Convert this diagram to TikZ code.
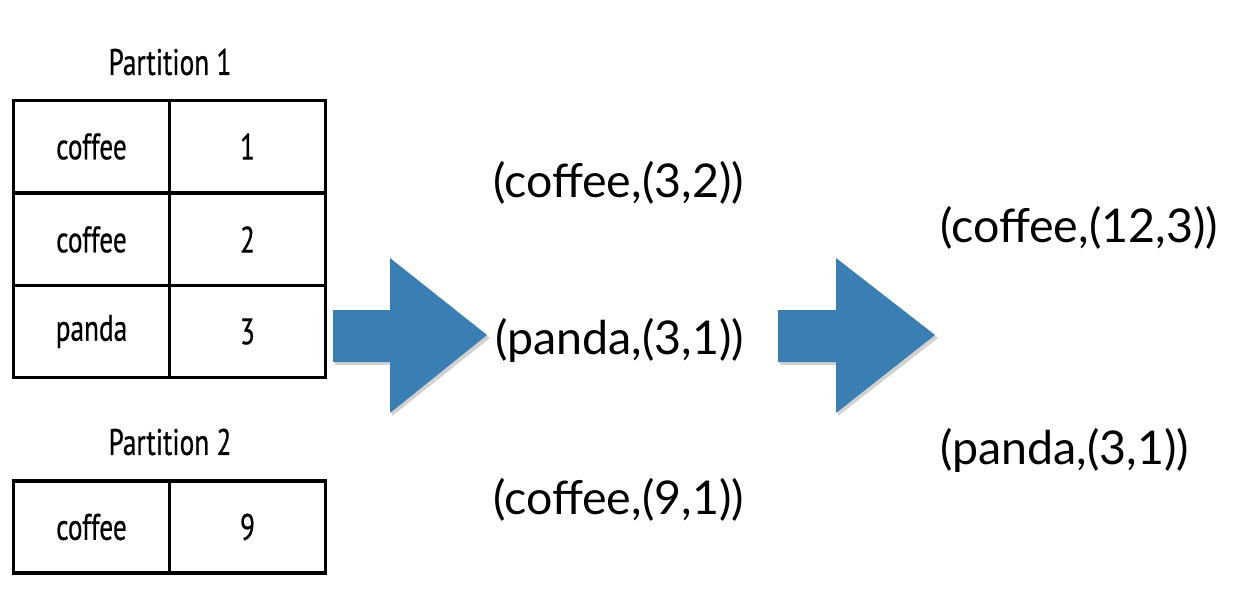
\documentclass[tikz,border=0pt]{standalone}
\usepackage{fontspec}
\setmainfont{Lato}
\newfontfamily\condfont[FakeStretch=0.74,FakeBold=0.6]{PT Sans}
\usepackage{xcolor}
\usepackage{tikz}
\usetikzlibrary{positioning}

\definecolor{arrowblue}{RGB}{57,127,180}

\begin{document}
\begin{tikzpicture}[x=0.02cm, y=-0.02cm,
  cell/.style={rectangle, draw, line width=2.2pt, minimum width=3.12cm, minimum height=1.84cm, inner sep=0pt, font=\condfont\fontsize{21}{24}\selectfont},
  title/.style={font=\condfont\fontsize{21}{24}\selectfont},
  pair/.style={anchor=west, inner sep=0pt, font=\fontsize{26.5}{30}\selectfont},
  bigarrow/.style={fill=arrowblue},
  arrowshadow/.style={fill=black, opacity=0.18}
]
\useasboundingbox (0,0) rectangle (1238,592);

% Partition 1
\node[title] (p1title) at (170,62) {Partition 1};
\node[cell] (k1) at (91.5,146.5) {coffee};
\node[cell] (v1) at (247.5,146.5) {1};
\node[cell] (k2) at (91.5,239.5) {coffee};
\node[cell] (v2) at (247.5,239.5) {2};
\node[cell] (k3) at (91.5,331.5) {panda};
\node[cell] (v3) at (247.5,331.5) {3};

% Partition 2
\node[title] (p2title) at (170,442) {Partition 2};
\node[cell] (k4) at (91.5,527) {coffee};
\node[cell] (v4) at (247.5,527) {9};

% Block arrows
\fill[arrowshadow] (335,313) -- (392,313) -- (392,261) -- (490,338) -- (392,416) -- (392,365) -- (335,365) -- cycle;
\fill[bigarrow] (333,310) -- (390,310) -- (390,258) -- (487,335) -- (390,413) -- (390,362) -- (333,362) -- cycle;
\fill[arrowshadow] (780,313) -- (838,313) -- (838,261) -- (938,338) -- (838,416) -- (838,365) -- (780,365) -- cycle;
\fill[bigarrow] (778,310) -- (836,310) -- (836,258) -- (935,335) -- (836,413) -- (836,362) -- (778,362) -- cycle;

% Combined per partition
\node[pair] (c32) at (493,183) {(coffee,(3,2))};
\node[pair] (p31) at (495,340) {(panda,(3,1))};
\node[pair] (c91) at (493,500) {(coffee,(9,1))};

% Final result
\node[pair] (c123) at (940,228) {(coffee,(12,3))};
\node[pair] (p31b) at (940,450) {(panda,(3,1))};
\end{tikzpicture}
\end{document}
